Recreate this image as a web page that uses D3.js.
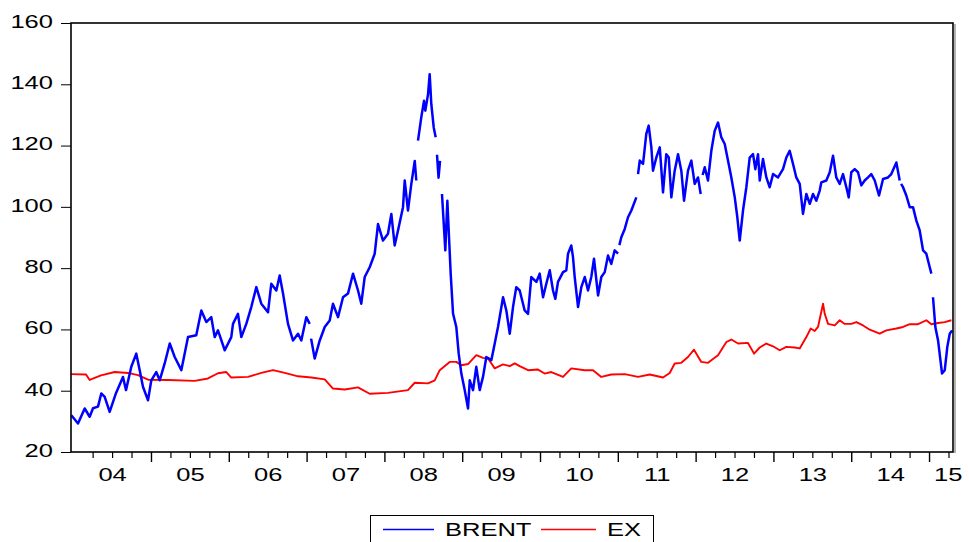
<!DOCTYPE html>
<html>
<head>
<meta charset="utf-8">
<script src="https://cdn.jsdelivr.net/npm/d3@7"></script>
<style>
  html, body { margin: 0; padding: 0; background: #fff; }
  svg { display: block; }
  text { font-family: "Liberation Sans", Arial, sans-serif; fill: #000; }
</style>
</head>
<body>
<svg id="chart" width="969" height="542"></svg>
<script>
// Brent crude (USD/bbl), daily series sampled; time in decimal years, null = missing obs.
const brentYear = [
  2003.976,2004.062,2004.148,2004.212,2004.255,2004.319,2004.361,2004.405,2004.469,2004.550,
  2004.640,2004.679,2004.747,2004.811,2004.855,2004.897,2004.962,2005.004,2005.068,2005.112,
  2005.176,2005.241,2005.305,2005.390,2005.476,2005.582,2005.647,2005.711,2005.775,2005.819,
  2005.861,2005.948,2006.032,2006.054,2006.118,2006.161,2006.225,2006.289,2006.354,2006.418,
  2006.504,2006.546,2006.611,2006.654,2006.697,2006.761,2006.825,2006.890,2006.932,2006.996,
  2007.040,2007.048,2007.058,2007.104,2007.169,2007.233,2007.297,2007.339,2007.404,2007.468,2007.532,
  2007.597,2007.661,2007.703,2007.747,2007.811,2007.875,2007.918,2007.982,2008.046,2008.089,
  2008.132,2008.175,2008.239,2008.261,2008.303,2008.346,2008.390,2008.410,2008.421,2008.432,
  2008.474,2008.509,2008.526,2008.561,2008.582,2008.603,2008.634,2008.659,2008.667,2008.676,
  2008.696,2008.715,2008.728,2008.740,2008.783,2008.809,2008.852,2008.882,2008.924,2008.955,
  2008.989,2009.032,2009.075,2009.097,2009.139,2009.181,2009.225,2009.267,2009.310,2009.375,
  2009.418,2009.460,2009.525,2009.567,2009.611,2009.653,2009.695,2009.739,2009.803,2009.846,
  2009.888,2009.953,2009.996,2010.039,2010.081,2010.125,2010.167,2010.197,2010.231,2010.296,
  2010.338,2010.360,2010.402,2010.424,2010.446,2010.489,2010.531,2010.575,2010.617,2010.659,
  2010.694,2010.746,2010.788,2010.832,2010.874,2010.916,2010.960,2011.003,2011.010,2011.020,2011.045,
  2011.089,2011.131,2011.174,2011.238,2011.249,2011.260,2011.282,2011.324,2011.366,2011.397,
  2011.431,2011.452,2011.495,2011.539,2011.581,2011.623,2011.655,2011.688,2011.731,2011.774,
  2011.816,2011.851,2011.902,2011.945,2011.988,2012.031,2012.065,2012.076,2012.090,2012.117,2012.159,
  2012.202,2012.245,2012.288,2012.330,2012.374,2012.416,2012.459,2012.503,2012.536,2012.567,
  2012.609,2012.652,2012.695,2012.738,2012.767,2012.802,2012.824,2012.866,2012.909,2012.952,
  2012.995,2013.059,2013.123,2013.166,2013.209,2013.252,2013.294,2013.338,2013.380,2013.423,
  2013.467,2013.509,2013.551,2013.595,2013.616,2013.680,2013.724,2013.766,2013.808,2013.852,
  2013.894,2013.937,2013.968,2014.001,2014.045,2014.087,2014.130,2014.173,2014.216,2014.258,
  2014.302,2014.357,2014.409,2014.473,2014.515,2014.580,2014.623,2014.631,2014.641,2014.666,2014.708,
  2014.752,2014.794,2014.837,2014.880,2014.923,2014.965,2015.009,2015.030,2015.040,2015.051,
  2015.081,2015.116,2015.167,2015.202,2015.235,2015.266,2015.296
];
const brent = [
  32.0,29.3,34.2,31.5,34.3,34.8,39.1,38.0,33.1,39.2,
  44.5,40.2,47.8,52.1,46.7,41.3,36.9,43.4,46.1,43.4,
  48.9,55.4,51.0,46.7,57.5,58.1,66.2,62.4,64.0,57.5,
  59.7,53.2,57.5,61.8,65.1,57.5,61.8,67.3,73.8,68.4,
  65.6,74.9,72.7,77.6,71.7,61.8,56.4,58.6,56.4,64.0,
  61.8,null,57.0,50.5,56.4,60.8,62.9,68.4,64.0,70.5,71.7,
  78.2,72.7,68.4,77.1,80.3,84.7,94.4,89.0,91.2,97.7,
  87.4,92.3,99.9,108.6,98.8,107.5,115.0,108.6,null,121.6,
  129.2,134.6,131.4,136.8,143.3,133.5,125.9,122.7,null,117.0,
  109.5,115.0,null,104.2,85.8,102.0,78.2,65.2,60.8,52.1,
  45.6,40.2,34.2,43.4,40.2,47.8,40.2,44.5,51.0,50.0,
  55.4,60.8,70.5,66.2,58.6,67.3,73.8,72.7,66.2,65.1,
  77.1,75.5,78.2,70.5,74.9,79.3,72.7,70.0,75.5,78.7,
  79.3,84.7,87.4,83.6,77.1,67.3,73.8,77.1,72.7,77.1,
  83.1,71.1,77.1,78.7,84.1,81.4,85.8,84.7,null,87.5,90.1,
  92.8,96.6,98.8,103.1,null,110.7,115.1,114.0,123.8,126.5,
  119.4,111.8,116.1,119.4,104.7,117.2,116.1,103.1,111.8,117.2,
  111.8,102.0,111.8,115.1,107.5,109.6,104.2,null,110.4,112.9,108.6,
  118.3,124.8,127.5,122.7,120.5,115.1,109.6,103.1,96.6,89.0,
  98.8,106.4,116.1,117.2,112.3,117.2,108.6,115.6,109.6,106.4,
  110.7,109.6,112.3,116.1,118.3,114.0,109.6,107.5,97.7,104.2,
  101.0,104.2,102.0,105.3,108.0,108.6,111.3,116.7,109.6,107.5,
  110.7,106.4,103.1,111.3,112.3,111.3,107.0,108.6,109.6,110.7,
  108.6,103.7,109.1,109.6,110.7,114.5,108.6,null,107.5,106.4,103.7,
  99.9,99.9,95.5,92.3,85.8,84.7,80.3,78.2,null,70.5,
  60.8,56.4,45.6,46.7,54.3,58.6,59.7
];

// EX series, same time base.
const exYear = [
  2003.972,2004.165,2004.212,2004.358,2004.534,2004.705,2004.833,2004.962,2005.219,2005.562,
  2005.733,2005.861,2005.968,2006.032,2006.247,2006.418,2006.568,2006.719,2006.890,2007.061,
  2007.233,2007.339,2007.490,2007.661,2007.811,2008.046,2008.303,2008.390,2008.561,2008.647,
  2008.711,2008.839,2008.924,2008.989,2009.075,2009.181,2009.267,2009.332,2009.418,2009.525,
  2009.611,2009.675,2009.739,2009.846,2009.974,2010.060,2010.145,2010.296,2010.402,2010.575,
  2010.681,2010.788,2010.916,2011.089,2011.260,2011.410,2011.581,2011.667,2011.731,2011.816,
  2011.902,2011.979,2012.073,2012.159,2012.288,2012.395,2012.459,2012.545,2012.673,2012.751,
  2012.824,2012.909,2012.995,2013.081,2013.166,2013.274,2013.338,2013.423,2013.479,2013.531,
  2013.573,2013.638,2013.659,2013.702,2013.788,2013.852,2013.916,2014.001,2014.066,2014.152,
  2014.238,2014.366,2014.451,2014.580,2014.666,2014.752,2014.859,2014.965,2015.030,2015.116,
  2015.202,2015.287
];
const ex = [
  45.4,45.3,43.5,45.0,46.1,45.8,45.1,43.6,43.5,43.2,
  44.0,45.7,46.1,44.3,44.5,45.8,46.7,45.8,44.7,44.3,
  43.7,40.7,40.4,41.1,39.0,39.3,40.2,42.6,42.4,43.4,
  46.7,49.4,49.4,48.3,48.7,51.6,50.7,50.5,47.3,48.6,
  48.0,48.9,48.0,46.7,46.9,45.6,46.1,44.5,47.3,46.7,
  46.7,44.5,45.3,45.4,44.5,45.3,44.3,45.8,48.9,49.1,
  51.0,53.4,49.4,49.1,51.6,55.9,56.7,55.4,55.6,52.1,
  54.1,55.4,54.5,53.2,54.3,54.1,53.8,57.5,60.3,59.5,
  60.8,68.4,65.1,61.8,61.3,63.0,61.8,61.8,62.4,61.3,
  59.9,58.6,59.7,60.3,60.8,61.7,61.7,63.0,61.7,62.1,
  62.4,63.0
];

const yTicks = [20, 40, 60, 80, 100, 120, 140, 160];
const yearTicks = [2005, 2006, 2007, 2008, 2009, 2010, 2011, 2012, 2013, 2014, 2015];
const yearLabels = ["04","05","06","07","08","09","10","11","12","13","14","15"];
const yearLabelPos = [2004.5,2005.5,2006.5,2007.5,2008.5,2009.5,2010.5,2011.5,2012.5,2013.5,2014.5,2015.24];
const seriesNames = ["BRENT", "EX"];
const seriesColors = ["#0000ff", "#ff0000"];

const svg = d3.select("#chart");
const plot = { left: 71, right: 953, top: 23, bottom: 452 };
const FONT = 18.5, SX = 1.38;   // wide-set axis lettering

const x = d3.scaleLinear().domain([2003.972, 2015.308]).range([plot.left, plot.right]);
const y = d3.scaleLinear().domain([20, 160]).range([plot.bottom, plot.top]);

// Quarterly minor ticks inside the range
const minorTicks = [];
for (let yr = 2004; yr <= 2015; yr++) {
  [0.25, 0.5, 0.75].forEach(q => {
    const t = yr + q;
    if (t < x.domain()[1] - 0.01) minorTicks.push(t);
  });
}

// Frame shadow on the right edge
svg.append("line")
  .attr("x1", plot.right + 2).attr("x2", plot.right + 2)
  .attr("y1", plot.top + 1).attr("y2", plot.bottom + 1)
  .attr("stroke", "#9a9a9a").attr("stroke-width", 1.5);

// Y axis
const yAxis = svg.append("g")
  .attr("transform", `translate(${plot.left},0)`)
  .call(d3.axisLeft(y).tickValues(yTicks).tickSize(10).tickFormat(d3.format("d")));
yAxis.select(".domain").remove();
yAxis.selectAll(".tick line").attr("stroke", "#000").attr("stroke-width", 1);
yAxis.selectAll(".tick text")
  .attr("font-size", FONT)
  .attr("x", -18 / SX)
  .attr("y", -2)
  .attr("dy", "0.34em")
  .attr("text-anchor", "end")
  .attr("transform", `scale(${SX},1)`);

// X axis: minor quarter ticks, major year ticks, year labels centred in each year
const xMinor = svg.append("g")
  .attr("transform", `translate(0,${plot.bottom})`)
  .call(d3.axisBottom(x).tickValues(minorTicks).tickSize(6).tickFormat(""));
xMinor.select(".domain").remove();
xMinor.selectAll(".tick line").attr("stroke", "#000").attr("stroke-width", 1.2);

const xMajor = svg.append("g")
  .attr("transform", `translate(0,${plot.bottom})`)
  .call(d3.axisBottom(x).tickValues(yearTicks).tickSize(10).tickFormat(""));
xMajor.select(".domain").remove();
xMajor.selectAll(".tick line").attr("stroke", "#000").attr("stroke-width", 1.4);

const xLab = svg.append("g")
  .attr("transform", `translate(0,${plot.bottom})`)
  .call(d3.axisBottom(x).tickValues(yearLabelPos).tickSize(0)
    .tickFormat((d, i) => yearLabels[i]));
xLab.select(".domain").remove();
xLab.selectAll(".tick text")
  .attr("font-size", FONT)
  .attr("y", 16)
  .attr("dy", "0.72em")
  .attr("transform", `scale(${SX},1)`);

// Series lines
const line = d3.line()
  .defined(d => d.v !== null)
  .x(d => x(d.t))
  .y(d => y(d.v));

const brentData = brentYear.map((t, i) => ({ t, v: brent[i] }));
const exData = exYear.map((t, i) => ({ t, v: ex[i] }));

svg.append("clipPath").attr("id", "plotclip")
  .append("rect")
  .attr("x", plot.left).attr("y", plot.top)
  .attr("width", plot.right - plot.left).attr("height", plot.bottom - plot.top);

const lines = svg.append("g").attr("clip-path", "url(#plotclip)");
lines.append("path")
  .datum(exData)
  .attr("d", line)
  .attr("fill", "none")
  .attr("stroke", seriesColors[1])
  .attr("stroke-width", 1.9)
  .attr("stroke-linejoin", "round");
lines.append("path")
  .datum(brentData)
  .attr("d", line)
  .attr("fill", "none")
  .attr("stroke", seriesColors[0])
  .attr("stroke-width", 2.5)
  .attr("stroke-linejoin", "round");

// Plot frame
svg.append("rect")
  .attr("x", plot.left).attr("y", plot.top)
  .attr("width", plot.right - plot.left).attr("height", plot.bottom - plot.top)
  .attr("fill", "none").attr("stroke", "#000").attr("stroke-width", 1.6);

// Legend
const legend = svg.append("g");
legend.append("rect")
  .attr("x", 370.5).attr("y", 515.5)
  .attr("width", 283).attr("height", 40)
  .attr("fill", "#fff").attr("stroke", "#000").attr("stroke-width", 1);
const legendItems = [
  { name: seriesNames[0], color: seriesColors[0], x0: 383, x1: 434, tx: 445 },
  { name: seriesNames[1], color: seriesColors[1], x0: 541, x1: 596, tx: 607 }
];
legendItems.forEach(it => {
  legend.append("line")
    .attr("x1", it.x0).attr("x2", it.x1)
    .attr("y1", 529.5).attr("y2", 529.5)
    .attr("stroke", it.color).attr("stroke-width", 1.6);
  legend.append("text")
    .attr("x", it.tx / SX).attr("y", 536.5)
    .attr("font-size", FONT)
    .attr("transform", `scale(${SX},1)`)
    .text(it.name);
});
</script>
</body>
</html>
